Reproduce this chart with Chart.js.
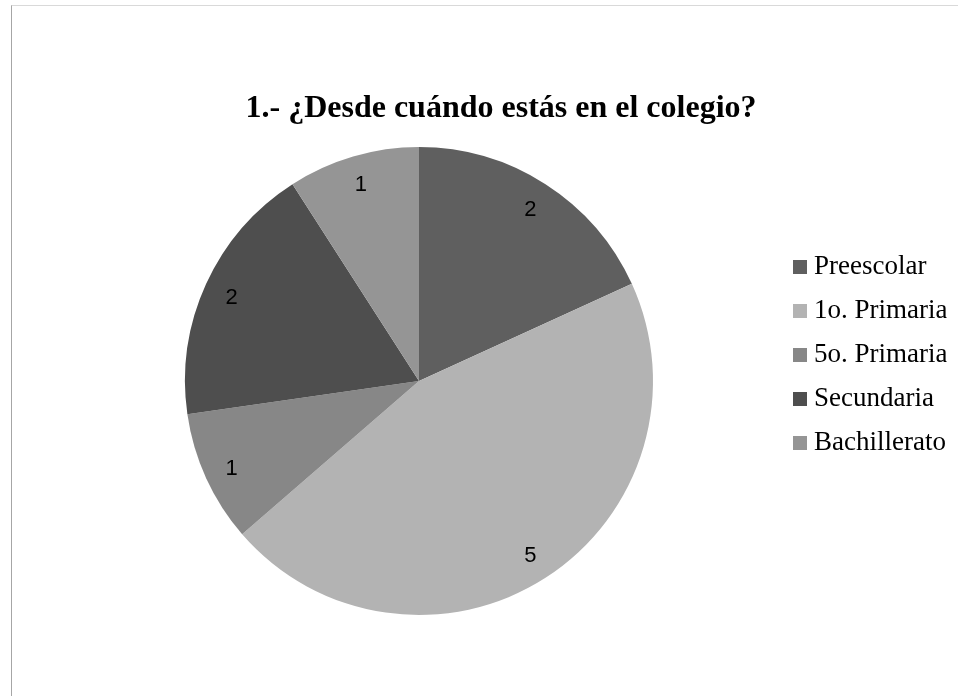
<!DOCTYPE html>
<html>
<head>
<meta charset="utf-8">
<script src="https://cdn.jsdelivr.net/npm/chart.js@4/dist/chart.umd.min.js"></script>
<style>
  html, body { margin: 0; padding: 0; background: #ffffff; }
  #wrap { position: relative; width: 958px; height: 696px; overflow: hidden; }
  #frame { position: absolute; left: 11px; top: 5px; width: 980px; height: 720px;
           border-top: 1px solid #d9d9d9; border-left: 1px solid #a6a6a6; box-sizing: border-box; }
  #c { position: absolute; left: 0; top: 0; }
</style>
</head>
<body>
<div id="wrap">
  <div id="frame"></div>
  <canvas id="c" width="958" height="696"></canvas>
</div>
<script>
const chartTitle = "1.- ¿Desde cuándo estás en el colegio?";
const categories = ["Preescolar", "1o. Primaria", "5o. Primaria", "Secundaria", "Bachillerato"];
const values = [2, 5, 1, 2, 1];
const sliceColors = ["#5f5f5f", "#b3b3b3", "#878787", "#4e4e4e", "#959595"];

function swatch(color) {
  const cv = document.createElement('canvas');
  cv.width = 14; cv.height = 14;
  const g = cv.getContext('2d');
  g.fillStyle = color;
  g.fillRect(0, 0, 14, 14);
  return cv;
}

const labelPlugin = {
  id: 'sliceLabels',
  afterDatasetsDraw(chart) {
    const ctx = chart.ctx;
    const meta = chart.getDatasetMeta(0);
    ctx.save();
    ctx.font = '22px "Liberation Sans", Arial, sans-serif';
    ctx.fillStyle = '#000000';
    ctx.textAlign = 'center';
    ctx.textBaseline = 'middle';
    meta.data.forEach((arc, i) => {
      const p = arc.getProps(['x', 'y', 'startAngle', 'endAngle', 'outerRadius'], true);
      const mid = (p.startAngle + p.endAngle) / 2;
      const d = p.outerRadius * 0.88;
      ctx.fillText(String(values[i]), p.x + Math.cos(mid) * d, p.y + Math.sin(mid) * d + 2);
    });
    ctx.restore();
  }
};

new Chart(document.getElementById('c'), {
  type: 'pie',
  data: {
    labels: categories,
    datasets: [{
      data: values,
      backgroundColor: sliceColors,
      borderWidth: 0,
      hoverOffset: 0
    }]
  },
  options: {
    responsive: false,
    animation: false,
    devicePixelRatio: 1,
    layout: { padding: { left: 55.5, right: 11.5, top: 0, bottom: 81 } },
    plugins: {
      tooltip: { enabled: false },
      title: {
        display: true,
        text: chartTitle,
        color: '#000000',
        font: { family: '"Liberation Serif", "Times New Roman", serif', size: 32, weight: 'bold', lineHeight: 1.2 },
        padding: { top: 89.2, bottom: 19.4 }
      },
      legend: {
        position: 'right',
        align: 'start',
        maxWidth: 164,
        title: { display: true, text: ' ', font: { size: 10, lineHeight: 1 }, padding: { top: 226.5, bottom: 0 } },
        labels: {
          color: '#000000',
          font: { family: '"Liberation Serif", "Times New Roman", serif', size: 27 },
          padding: 17,
          usePointStyle: true,
          pointStyleWidth: 1,
          generateLabels(chart) {
            const items = Chart.overrides.pie.plugins.legend.labels.generateLabels(chart);
            items.forEach((it, i) => { it.pointStyle = swatch(sliceColors[i]); });
            return items;
          }
        }
      }
    }
  },
  plugins: [labelPlugin]
});
</script>
</body>
</html>
